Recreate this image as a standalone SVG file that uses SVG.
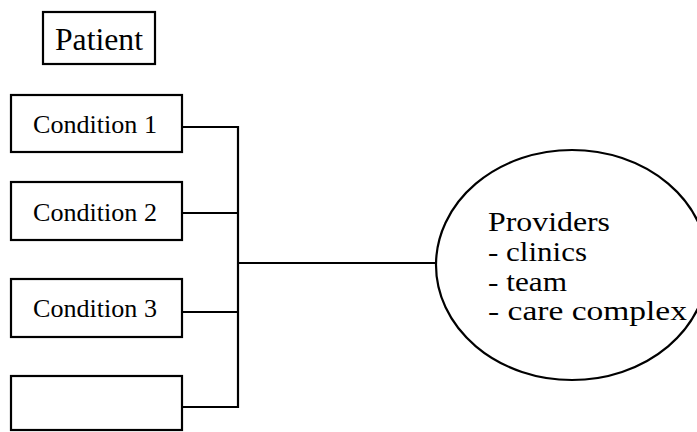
<svg xmlns="http://www.w3.org/2000/svg" width="697" height="432" viewBox="0 0 697 432">
<style>
.box{fill:none;stroke:#000;stroke-width:2.2}
.ln{fill:none;stroke:#000;stroke-width:2.2}
text{font-family:"Liberation Serif","Times New Roman",serif;fill:#000}
.c{font-size:25px}
.p{font-size:31px}
.q{font-size:28px}
</style>
<rect width="697" height="432" fill="#fff"/>
<g id="patient">
<rect class="box" x="43" y="12" width="112" height="52"/>
<text class="p" x="55" y="50" textLength="88" lengthAdjust="spacingAndGlyphs">Patient</text>
</g>
<g id="condition1">
<rect class="box" x="11" y="95" width="171" height="57"/>
<text class="c" x="33" y="133" textLength="124" lengthAdjust="spacingAndGlyphs">Condition 1</text>
</g>
<g id="condition2">
<rect class="box" x="11" y="182" width="171" height="58"/>
<text class="c" x="33" y="221" textLength="124" lengthAdjust="spacingAndGlyphs">Condition 2</text>
</g>
<g id="condition3">
<rect class="box" x="11" y="279" width="171" height="58"/>
<text class="c" x="33" y="317" textLength="124" lengthAdjust="spacingAndGlyphs">Condition 3</text>
</g>
<g id="empty">
<rect class="box" x="11" y="376" width="171" height="54"/>
</g>
<g id="providers">
<ellipse class="box" cx="572" cy="265" rx="136" ry="115"/>
<text class="q" x="488" y="231" textLength="122" lengthAdjust="spacingAndGlyphs">Providers</text>
<text class="q" x="488" y="261" textLength="99" lengthAdjust="spacingAndGlyphs">- clinics</text>
<text class="q" x="488" y="291" textLength="79" lengthAdjust="spacingAndGlyphs">- team</text>
<text class="q" x="488" y="320" textLength="199" lengthAdjust="spacingAndGlyphs">- care complex</text>
</g>
<g id="connectors">
<path class="ln" d="M182 127H238V407H182M182 213H238M182 312H238M238 263H436"/>
</g>
</svg>
